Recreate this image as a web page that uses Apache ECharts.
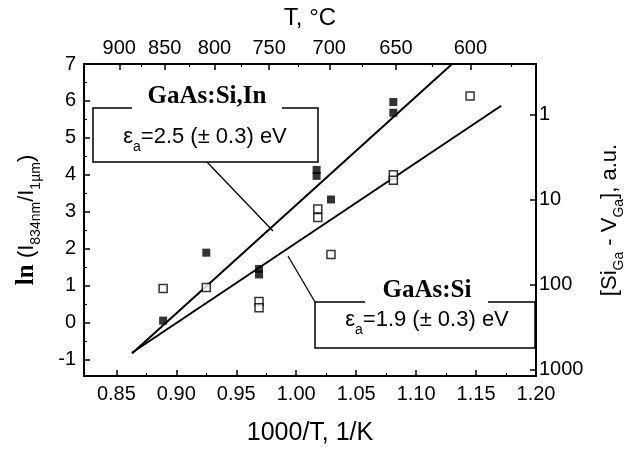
<!DOCTYPE html>
<html><head><meta charset="utf-8">
<script src="https://cdn.jsdelivr.net/npm/echarts@6/dist/echarts.min.js"></script>
<style>html,body{margin:0;padding:0;background:#fff}#c{width:634px;height:451px}</style>
</head><body><div id="c"></div>
<script>
// GaAs:Si,In (filled squares)
const siInX = [0.889, 0.925, 0.969, 0.969, 1.017, 1.017, 1.029, 1.081, 1.081];
const siInY = [0.05, 1.89, 1.45, 1.30, 4.13, 3.97, 3.33, 5.97, 5.68];
// GaAs:Si (open squares)
const siX = [0.889, 0.925, 0.969, 0.969, 1.018, 1.018, 1.029, 1.081, 1.081, 1.145];
const siY = [0.92, 0.95, 0.57, 0.40, 3.07, 2.84, 1.84, 4.00, 3.85, 6.13];
// fitted Arrhenius lines (end points)
const fitSiInX = [0.863, 1.130];
const fitSiInY = [-0.84, 7.0];
const fitSiX = [0.863, 1.171];
const fitSiY = [-0.82, 5.87];
// tick labels
const xTicks = [0.85, 0.90, 0.95, 1.00, 1.05, 1.10, 1.15, 1.20];
const yTicks = [-1, 0, 1, 2, 3, 4, 5, 6, 7];
const topTempLabels = [900, 850, 800, 750, 700, 650, 600];
const topTempMinor = [875, 825, 775, 725, 675, 625, 575];
const rightTicks = [1, 10, 100, 1000];

const xMinor = xTicks.slice(0, -1).map((v, i) => (v + xTicks[i + 1]) / 2);
const yMinor = yTicks.slice(0, -1).map((v, i) => (v + yTicks[i + 1]) / 2);
const toInvT = t => 1000 / (t + 273.15);
const topPos = topTempLabels.map(toInvT);
const topMinorPos = topTempMinor.map(toInvT);
const zip = (a, b) => a.map((v, i) => [v, b[i]]);

const FONT = 'Liberation Sans';
const XMIN = 0.823, XMAX = 1.2, YMIN = -1.45, YMAX = 7;
const RMIN = 0.2546, RMAX = 1191;
const lineSt = { color: '#000', width: 2 };
const lbl = { color: '#000', fontSize: 20, fontFamily: FONT };

const chart = echarts.init(document.getElementById('c'), null, { renderer: 'canvas' });
chart.setOption({
  animation: false,
  backgroundColor: '#fff',
  grid: { left: 84, top: 64, width: 462, height: 321, containLabel: false },
  xAxis: [
    { type: 'value', position: 'bottom', min: XMIN, max: XMAX,
      axisLine: { onZero: false, lineStyle: lineSt },
      axisTick: { inside: true, length: 6, customValues: xTicks, lineStyle: { color: '#000', width: 1.5 } },
      axisLabel: Object.assign({ customValues: xTicks, margin: 8, formatter: v => v.toFixed(2) }, lbl),
      splitLine: { show: false },
      name: '1000/T, 1/K', nameLocation: 'middle', nameGap: 45,
      nameTextStyle: { color: '#000', fontSize: 25, fontFamily: FONT } },
    { type: 'value', position: 'bottom', min: XMIN, max: XMAX,
      axisLine: { show: false, onZero: false },
      axisTick: { inside: true, length: 3, customValues: xMinor, lineStyle: { color: '#000', width: 1.2 } },
      axisLabel: { show: false }, splitLine: { show: false } },
    { type: 'value', position: 'top', min: XMIN, max: XMAX,
      axisLine: { onZero: false, lineStyle: lineSt },
      axisTick: { inside: true, length: 6, customValues: topPos, lineStyle: { color: '#000', width: 1.5 } },
      axisLabel: Object.assign({ customValues: topPos, margin: 6,
        formatter: v => String(Math.round(1000 / v - 273.15)) }, lbl),
      splitLine: { show: false },
      name: 'T, °C', nameLocation: 'middle', nameGap: 34,
      nameTextStyle: { color: '#000', fontSize: 24, fontFamily: FONT } },
    { type: 'value', position: 'top', min: XMIN, max: XMAX,
      axisLine: { show: false, onZero: false },
      axisTick: { inside: true, length: 3, customValues: topMinorPos, lineStyle: { color: '#000', width: 1.2 } },
      axisLabel: { show: false }, splitLine: { show: false } }
  ],
  yAxis: [
    { type: 'value', position: 'left', min: YMIN, max: YMAX,
      axisLine: { onZero: false, lineStyle: lineSt },
      axisTick: { inside: true, length: 6, customValues: yTicks, lineStyle: { color: '#000', width: 1.5 } },
      axisLabel: Object.assign({ customValues: yTicks, margin: 8 }, lbl),
      splitLine: { show: false },
      name: '{b|ln }{r|(I}{s|834nm}{r|/I}{s|1µm}{r|)}', nameLocation: 'middle', nameGap: 41, nameRotate: 90,
      nameTextStyle: { color: '#000', rich: {
        b: { fontFamily: 'Liberation Serif', fontWeight: 'bold', fontSize: 25, lineHeight: 32, color: '#000' },
        r: { fontFamily: FONT, fontSize: 22, lineHeight: 32, color: '#000' },
        s: { fontFamily: FONT, fontSize: 14, lineHeight: 14, verticalAlign: 'bottom', color: '#000' } } } },
    { type: 'log', logBase: 10, position: 'right', inverse: true, min: RMIN, max: RMAX,
      axisLine: { onZero: false, lineStyle: lineSt },
      axisTick: { inside: true, length: 6, customValues: rightTicks, lineStyle: { color: '#000', width: 1.5 } },
      axisLabel: Object.assign({ customValues: rightTicks, margin: 3, formatter: v => String(Math.round(v)) }, lbl),
      splitLine: { show: false }, minorTick: { show: false },
      name: '{r|[Si}{s|Ga}{r| - V}{s|Ga}{r|], a.u.}', nameLocation: 'middle', nameGap: 58, nameRotate: 90,
      nameTextStyle: { color: '#000', rich: {
        r: { fontFamily: FONT, fontSize: 22, lineHeight: 32, color: '#000' },
        s: { fontFamily: FONT, fontSize: 14, lineHeight: 14, verticalAlign: 'bottom', color: '#000' } } } },
    { type: 'value', position: 'left', min: YMIN, max: YMAX,
      axisLine: { show: false, onZero: false },
      axisTick: { inside: true, length: 3, customValues: yMinor, lineStyle: { color: '#000', width: 1.2 } },
      axisLabel: { show: false }, splitLine: { show: false } }
  ],
  series: [
    { type: 'line', xAxisIndex: 0, yAxisIndex: 0, data: zip(fitSiInX, fitSiInY), symbol: 'none',
      lineStyle: { color: '#000', width: 2 }, z: 2 },
    { type: 'line', xAxisIndex: 0, yAxisIndex: 0, data: zip(fitSiX, fitSiY), symbol: 'none',
      lineStyle: { color: '#000', width: 2 }, z: 2 },
    { type: 'scatter', name: 'GaAs:Si,In', xAxisIndex: 0, yAxisIndex: 0, data: zip(siInX, siInY),
      symbol: 'rect', symbolSize: 8, itemStyle: { color: '#000' }, z: 3 },
    { type: 'scatter', name: 'GaAs:Si', xAxisIndex: 0, yAxisIndex: 0, data: zip(siX, siY),
      symbol: 'rect', symbolSize: 8, itemStyle: { color: '#fff', borderColor: '#000', borderWidth: 1.5 }, z: 3 }
  ],
  graphic: [
    // leader lines
    { type: 'line', shape: { x1: 207, y1: 162, x2: 273, y2: 231 }, style: { stroke: '#000', lineWidth: 1.3 }, z: 90 },
    { type: 'line', shape: { x1: 315, y1: 302, x2: 288, y2: 256 }, style: { stroke: '#000', lineWidth: 1.3 }, z: 90 },
    // box 1
    { type: 'rect', shape: { x: 93, y: 108, width: 225, height: 54 }, style: { fill: '#fff', stroke: '#000', lineWidth: 1.5 }, z: 100 },
    { type: 'rect', shape: { x: 132, y: 102, width: 150, height: 12 }, style: { fill: '#fff' }, z: 101 },
    { type: 'text', x: 207, y: 97, z: 102, style: { text: 'GaAs:Si,In', fill: '#000', fontFamily: 'Liberation Serif',
      fontWeight: 'bold', fontSize: 25, align: 'center', verticalAlign: 'middle' } },
    { type: 'text', x: 205, y: 137, z: 102, style: { text: '{n|ε}{s|a}{n|=2.5 (± 0.3) eV}', align: 'center', verticalAlign: 'middle',
      rich: { n: { fontFamily: FONT, fontSize: 22, lineHeight: 34, fill: '#000' },
              s: { fontFamily: FONT, fontSize: 14, lineHeight: 14, verticalAlign: 'bottom', fill: '#000' } } } },
    // box 2
    { type: 'rect', shape: { x: 315, y: 302, width: 220, height: 46 }, style: { fill: '#fff', stroke: '#000', lineWidth: 1.5 }, z: 100 },
    { type: 'rect', shape: { x: 365, y: 296, width: 123, height: 12 }, style: { fill: '#fff' }, z: 101 },
    { type: 'text', x: 427, y: 291, z: 102, style: { text: 'GaAs:Si', fill: '#000', fontFamily: 'Liberation Serif',
      fontWeight: 'bold', fontSize: 25, align: 'center', verticalAlign: 'middle' } },
    { type: 'text', x: 427, y: 320, z: 102, style: { text: '{n|ε}{s|a}{n|=1.9 (± 0.3) eV}', align: 'center', verticalAlign: 'middle',
      rich: { n: { fontFamily: FONT, fontSize: 22, lineHeight: 34, fill: '#000' },
              s: { fontFamily: FONT, fontSize: 14, lineHeight: 14, verticalAlign: 'bottom', fill: '#000' } } } }
  ]
});
</script>
</body></html>
